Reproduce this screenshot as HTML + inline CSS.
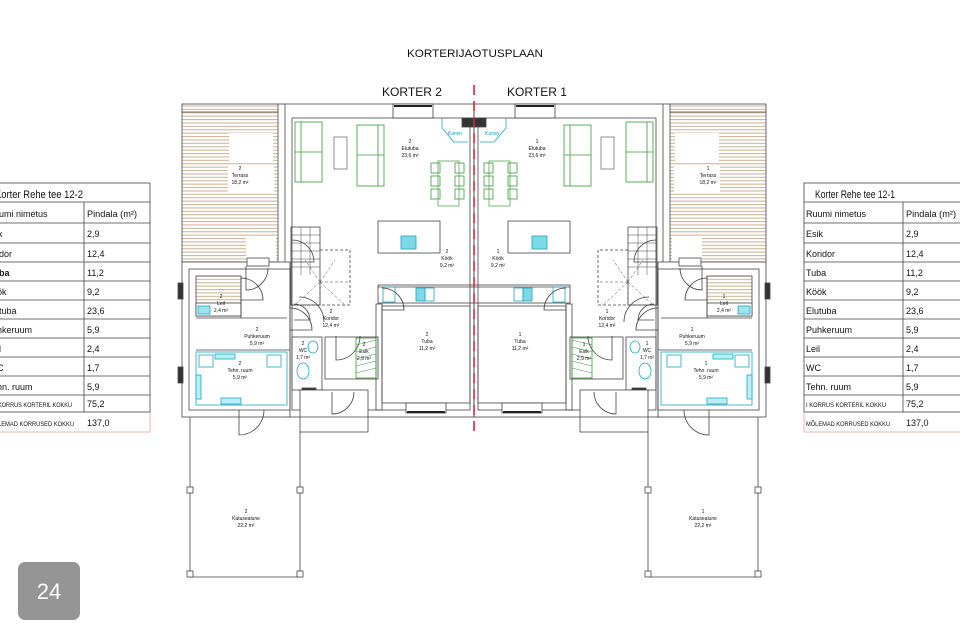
<!DOCTYPE html>
<html><head><meta charset="utf-8"><style>
html,body{margin:0;padding:0;background:#fff;width:960px;height:640px;overflow:hidden}
svg{display:block}
text{font-family:"Liberation Sans",sans-serif;fill:#111}
.s{font-size:5px}
.t{font-size:9px}
</style></head><body>
<svg width="960" height="640" viewBox="0 0 960 640" xmlns="http://www.w3.org/2000/svg">
<defs>
<pattern id="hat" width="10" height="3.4" patternUnits="userSpaceOnUse">
<rect width="10" height="3.4" fill="#fff"/><rect y="0" width="10" height="1.1" fill="#cdb89c"/>
</pattern>
<g id="L" fill="none" stroke="#444" stroke-width="0.8">
 <rect x="182" y="104" width="96" height="158" fill="url(#hat)"/>
 <line x1="182" y1="112" x2="278" y2="112"/>
 <rect x="229" y="133" width="44" height="30" fill="#fff" stroke="none"/>
 <rect x="228" y="165" width="46" height="28" fill="#fff" stroke="none"/>
 <rect x="246" y="236" width="30" height="25" fill="#fff" stroke="none"/>
 <rect x="285" y="104" width="189" height="313"/>
 <rect x="292" y="118" width="178" height="292"/>
 <line x1="278" y1="104" x2="285" y2="104"/>
 <rect x="393" y="104" width="40" height="14" fill="#fff"/>
 <line x1="394" y1="106" x2="432" y2="106" stroke="#222" stroke-width="2"/>
 <rect x="182" y="262" width="108" height="155" fill="#fff"/>
 <rect x="189" y="269" width="101" height="141"/>
 <rect x="178" y="283" width="5" height="16" fill="#333"/>
 <rect x="178" y="367" width="5" height="16" fill="#333"/>
 <rect x="247" y="258" width="22" height="8" fill="#fff"/>
 <rect x="196" y="276" width="45" height="40" fill="url(#hat)"/>
 <rect x="196" y="303" width="45" height="13" fill="#fff"/>
 <rect x="198" y="306" width="12" height="8" fill="#9ee3ee" stroke="#19a8c4"/>
 <line x1="196" y1="318" x2="287" y2="318"/>
 <line x1="241" y1="276" x2="241" y2="318"/>
 <line x1="196" y1="350" x2="290" y2="350"/>
 <rect x="196" y="352" width="91" height="53" stroke="#19a8c4"/>
 <rect x="199" y="355" width="14" height="12" stroke="#19a8c4"/>
 <rect x="267" y="355" width="14" height="12" stroke="#19a8c4"/>
 <rect x="215" y="354" width="20" height="5" fill="#bdeef5" stroke="#19a8c4"/>
 <rect x="221" y="398" width="20" height="6" fill="#bdeef5" stroke="#19a8c4"/>
 <rect x="196" y="375" width="5" height="24" fill="#bdeef5" stroke="#19a8c4"/>
 <path d="M246 266 v24 a22 22 0 0 0 22 -22"/>
 <path d="M241 300 h22 a22 22 0 0 0 -22 -22"/>
 <path d="M290 330 h22 a22 22 0 0 0 -22 -22"/>
 <path d="M292 262 h22 a22 22 0 0 0 -22 -22"/>
 <path d="M239 410 v25 a25 25 0 0 0 25 -25"/>
 <rect x="291" y="227" width="29" height="78"/>
 <g stroke-width="0.5"><line x1="291" y1="235" x2="320" y2="235"/><line x1="291" y1="243" x2="320" y2="243"/><line x1="291" y1="251" x2="320" y2="251"/><line x1="291" y1="259" x2="320" y2="259"/><line x1="291" y1="267" x2="320" y2="267"/><line x1="301" y1="227" x2="301" y2="275"/><line x1="310" y1="227" x2="310" y2="275"/></g>
 <path d="M320 250 h30 v55 h-59" stroke-dasharray="3 2"/>
 <path d="M320 282 L295 305 M320 282 L320 305 M320 282 L345 305 M320 282 L350 282 M320 282 L305 260 M320 282 L335 260" stroke-dasharray="3 2" stroke-width="0.5"/>
 <g stroke="#3a9a3a">
  <rect x="295" y="122" width="27" height="60"/><line x1="301" y1="122" x2="301" y2="182"/><line x1="295" y1="152" x2="322" y2="152"/>
  <rect x="357" y="125" width="27" height="61"/><line x1="378" y1="125" x2="378" y2="186"/><line x1="357" y1="155" x2="384" y2="155"/>
  <rect x="431" y="163" width="9" height="10"/><rect x="431" y="176" width="9" height="10"/><rect x="431" y="189" width="9" height="10"/>
  <rect x="455" y="163" width="9" height="10"/><rect x="455" y="176" width="9" height="10"/><rect x="455" y="189" width="9" height="10"/>
 </g>
 <rect x="334" y="137" width="13" height="32" stroke="#777"/>
 <rect x="438" y="161" width="21" height="45" stroke="#5a5"/>
 <path d="M442 118 v10 l12 14 h14" stroke="#19a8c4"/>
 <rect x="462" y="118" width="12" height="9" fill="#333"/>
 <rect x="378" y="221" width="62" height="32"/>
 <rect x="401" y="236" width="15" height="13" fill="#7fd8e6" stroke="#19a8c4"/>
 <rect x="378" y="285" width="96" height="18"/>
 <line x1="378" y1="287" x2="474" y2="287"/>
 <rect x="383" y="287" width="12" height="15" stroke="#19a8c4"/>
 <rect x="416" y="288" width="9" height="13" fill="#7fd8e6" stroke="#19a8c4"/>
 <rect x="425" y="288" width="9" height="13" stroke="#19a8c4"/>
 <rect x="382" y="306" width="88" height="97"/>
 <rect x="376" y="304" width="6" height="106"/>
 <path d="M382 310 h22 a22 22 0 0 0 -22 -22"/>
 <rect x="406" y="403" width="40" height="10" fill="#fff"/>
 <line x1="407" y1="412" x2="445" y2="412" stroke="#222" stroke-width="2"/>
 <rect x="292" y="337" width="30" height="53"/>
 <rect x="325" y="337" width="53" height="42"/>
 <rect x="356" y="338" width="20" height="40" stroke="#3a9a3a"/>
 <g stroke="#3a9a3a" stroke-width="0.5"><line x1="356" y1="345" x2="376" y2="340"/><line x1="356" y1="352" x2="376" y2="347"/><line x1="356" y1="359" x2="376" y2="354"/><line x1="356" y1="366" x2="376" y2="361"/><line x1="356" y1="373" x2="376" y2="368"/></g>
 <ellipse cx="313" cy="347" rx="5" ry="6" stroke="#19a8c4"/>
 <ellipse cx="303" cy="371" rx="6" ry="8" stroke="#19a8c4"/>
 <path d="M294 320 h16 a16 16 0 0 0 -16 -16"/>
 <path d="M336 336 v24 a24 24 0 0 0 24 -24"/>
 <path d="M324 322 a25 25 0 0 0 -25 -25" />
 <rect x="302" y="388" width="14" height="7" fill="#333"/>
 <rect x="300" y="390" width="68" height="42" fill="#fff"/>
 <line x1="300" y1="417" x2="368" y2="417"/>
 <path d="M332 392 v22 a22 22 0 0 0 22 -22"/>
 <polyline points="190,417 190,577 300,577 300,432"/>
 <rect x="187" y="487" width="6" height="6" fill="#fff"/><rect x="297" y="487" width="6" height="6" fill="#fff"/>
 <rect x="187" y="571" width="6" height="6" fill="#fff"/><rect x="297" y="571" width="6" height="6" fill="#fff"/>
</g>
</defs>
<use href="#L"/>
<use href="#L" transform="translate(948,0) scale(-1,1)"/>
<line x1="474" y1="85" x2="474" y2="432" stroke="#d12a2a" stroke-width="1.6" stroke-dasharray="10 6"/>

<text x="475" y="57" text-anchor="middle" textLength="136" lengthAdjust="spacingAndGlyphs" style="font-size:11px">KORTERIJAOTUSPLAAN</text>
<text x="412" y="96" text-anchor="middle" textLength="60" lengthAdjust="spacingAndGlyphs" style="font-size:12px">KORTER 2</text>
<text x="537" y="96" text-anchor="middle" textLength="60" lengthAdjust="spacingAndGlyphs" style="font-size:12px">KORTER 1</text>

<g class="s" text-anchor="middle">
<text x="240" y="170">2</text><text x="240" y="177">Terrass</text><text x="240" y="184">18,2 m²</text>
<text x="708" y="170">1</text><text x="708" y="177">Terrass</text><text x="708" y="184">18,2 m²</text>
<text x="410" y="143">2</text><text x="410" y="150">Elutuba</text><text x="410" y="157">23,6 m²</text>
<text x="537" y="143">1</text><text x="537" y="150">Elutuba</text><text x="537" y="157">23,6 m²</text>
<text x="447" y="253">2</text><text x="447" y="260">Köök</text><text x="447" y="267">9,2 m²</text>
<text x="498" y="253">1</text><text x="498" y="260">Köök</text><text x="498" y="267">9,2 m²</text>
<text x="331" y="313">2</text><text x="331" y="320">Koridor</text><text x="331" y="327">12,4 m²</text>
<text x="607" y="313">1</text><text x="607" y="320">Koridor</text><text x="607" y="327">12,4 m²</text>
<text x="427" y="336">2</text><text x="427" y="343">Tuba</text><text x="427" y="350">11,2 m²</text>
<text x="520" y="336">1</text><text x="520" y="343">Tuba</text><text x="520" y="350">11,2 m²</text>
<text x="221" y="298">2</text><text x="221" y="305">Leil</text><text x="221" y="312">2,4 m²</text>
<text x="724" y="298">1</text><text x="724" y="305">Leil</text><text x="724" y="312">2,4 m²</text>
<text x="257" y="331">2</text><text x="257" y="338">Puhkeruum</text><text x="257" y="345">5,9 m²</text>
<text x="692" y="331">1</text><text x="692" y="338">Puhkeruum</text><text x="692" y="345">5,9 m²</text>
<text x="240" y="365">2</text><text x="240" y="372">Tehn. ruum</text><text x="240" y="379">5,9 m²</text>
<text x="706" y="365">1</text><text x="706" y="372">Tehn. ruum</text><text x="706" y="379">5,9 m²</text>
<text x="303" y="345">2</text><text x="303" y="352">WC</text><text x="303" y="359">1,7 m²</text>
<text x="647" y="345">1</text><text x="647" y="352">WC</text><text x="647" y="359">1,7 m²</text>
<text x="364" y="346">2</text><text x="364" y="353">Esik</text><text x="364" y="360">2,9 m²</text>
<text x="584" y="346">1</text><text x="584" y="353">Esik</text><text x="584" y="360">2,9 m²</text>
<text x="246" y="513">2</text><text x="246" y="520">Katusealune</text><text x="246" y="527">22,2 m²</text>
<text x="703" y="513">1</text><text x="703" y="520">Katusealune</text><text x="703" y="527">22,2 m²</text>
<text x="455" y="135" style="fill:#19a8c4">Kamin</text>
<text x="492" y="135" style="fill:#19a8c4">Kamin</text>
</g>

<g fill="none" stroke="#444" stroke-width="0.8">
<rect x="-20" y="183" width="170" height="229"/>
<line x1="84" y1="202" x2="84" y2="412"/>
<path d="M-20 202H150M-20 223H150M-20 243H150M-20 262H150M-20 281H150M-20 300H150M-20 319H150M-20 338H150M-20 357H150M-20 376H150M-20 395H150"/>
<path d="M-20 432H150V412" stroke="#e8a0a0"/>
</g>
<g class="t">
<text x="-5" y="198" textLength="88" lengthAdjust="spacingAndGlyphs" style="font-size:11px">Korter Rehe tee 12-2</text>
<text x="-6" y="217">uumi nimetus</text><text x="87" y="217" textLength="50" lengthAdjust="spacingAndGlyphs">Pindala (m²)</text>
<text x="-4" y="237">ik</text><text x="87" y="237">2,9</text>
<text x="-6" y="257">ridor</text><text x="87" y="257">12,4</text>
<text x="-1" y="276" font-weight="bold">ba</text><text x="87" y="276">11,2</text>
<text x="-3" y="295">ök</text><text x="87" y="295">9,2</text>
<text x="-1" y="314">tuba</text><text x="87" y="314">23,6</text>
<text x="-3" y="333">hkeruum</text><text x="87" y="333">5,9</text>
<text x="-3" y="352">il</text><text x="87" y="352">2,4</text>
<text x="-3" y="371">C</text><text x="87" y="371">1,7</text>
<text x="-3" y="390">hn. ruum</text><text x="87" y="390">5,9</text>
<text x="-2" y="407" textLength="74" lengthAdjust="spacingAndGlyphs" style="font-size:6.5px">KORRUS KORTERIL KOKKU</text><text x="87" y="407">75,2</text>
<text x="-2" y="426" textLength="76" lengthAdjust="spacingAndGlyphs" style="font-size:6.5px">LEMAD KORRUSED KOKKU</text><text x="87" y="426">137,0</text>
</g>

<g fill="none" stroke="#444" stroke-width="0.8">
<rect x="804" y="183" width="170" height="229"/>
<line x1="903" y1="202" x2="903" y2="412"/>
<path d="M804 202H974M804 223H974M804 243H974M804 262H974M804 281H974M804 300H974M804 319H974M804 338H974M804 357H974M804 376H974M804 395H974"/>
<path d="M804 412V432H974" stroke="#e8a0a0"/>
</g>
<g class="t">
<text x="815" y="198" textLength="80" lengthAdjust="spacingAndGlyphs" style="font-size:11px">Korter Rehe tee 12-1</text>
<text x="806" y="217">Ruumi nimetus</text><text x="906" y="217" textLength="50" lengthAdjust="spacingAndGlyphs">Pindala (m²)</text>
<text x="806" y="237">Esik</text><text x="906" y="237">2,9</text>
<text x="806" y="257">Koridor</text><text x="906" y="257">12,4</text>
<text x="806" y="276">Tuba</text><text x="906" y="276">11,2</text>
<text x="806" y="295">Köök</text><text x="906" y="295">9,2</text>
<text x="806" y="314">Elutuba</text><text x="906" y="314">23,6</text>
<text x="806" y="333">Puhkeruum</text><text x="906" y="333">5,9</text>
<text x="806" y="352">Leil</text><text x="906" y="352">2,4</text>
<text x="806" y="371">WC</text><text x="906" y="371">1,7</text>
<text x="806" y="390">Tehn. ruum</text><text x="906" y="390">5,9</text>
<text x="806" y="407" textLength="80" lengthAdjust="spacingAndGlyphs" style="font-size:6.5px">I KORRUS KORTERIL KOKKU</text><text x="906" y="407">75,2</text>
<text x="806" y="426" textLength="84" lengthAdjust="spacingAndGlyphs" style="font-size:6.5px">MÕLEMAD KORRUSED KOKKU</text><text x="906" y="426">137,0</text>
</g>

<rect x="18" y="562" width="62" height="58" rx="7" fill="#8a8a8a" opacity="0.9"/>
<text x="49" y="599" text-anchor="middle" style="font-size:22px;fill:#fff">24</text>
</svg>
</body></html>
